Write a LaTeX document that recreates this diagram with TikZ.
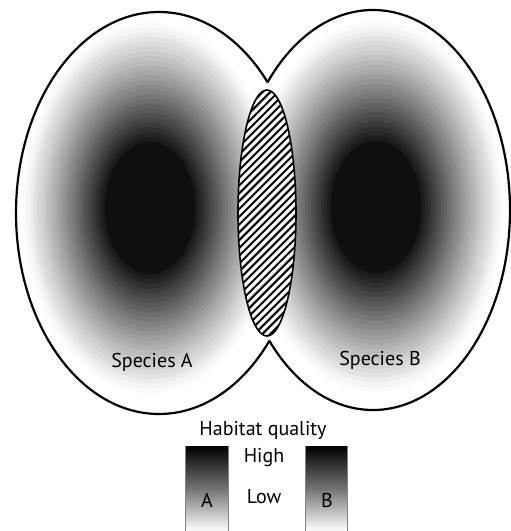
\documentclass[tikz,border=0pt]{standalone}
\usepackage{fontspec}
\setmainfont{PT Sans}
\usepackage{tikz}

\begin{document}
\begin{tikzpicture}[
  x=1pt, y=-1pt,
  outline/.style={draw, line width=2.2pt},
  lens/.style={draw, line width=1.6pt, fill=white},
  hatchline/.style={line width=2pt},
  label/.style={font=\fontsize{20}{24}\selectfont, inner sep=0pt},
  bar/.style={top color=black, bottom color=white, middle color=black!55}
]
\useasboundingbox (0,0) rectangle (511,531);

% Habitat quality gradients
\foreach \cx/\cy in {150/208, 376/207}{
  \foreach \k in {1,...,39}{
    \pgfmathsetmacro{\r}{1-\k/40}
    \pgfmathtruncatemacro{\d}{94*(min(1,(1-\r)/0.65))^1.15}
    \fill[black!\d] (\cx,\cy) ellipse ({130*\r} and {190*\r});
  }
}

% Ranges (outer outline only)
\begin{scope}[even odd rule]
  \clip (-5,-5) rectangle (516,536) (373,210) ellipse (137 and 200);
  \draw[outline] (159,213) ellipse (143 and 201);
\end{scope}
\begin{scope}[even odd rule]
  \clip (-5,-5) rectangle (516,536) (159,213) ellipse (143 and 201);
  \draw[outline] (373,210) ellipse (137 and 200);
\end{scope}

% Overlap
\fill[white] (267,213) ellipse (29 and 123);
\begin{scope}
  \clip (267,213) ellipse (29 and 123);
  \foreach \i in {0,...,45}
    \draw[hatchline] ({-40+\i*7.8},340) -- ++(260,-260);
\end{scope}
\draw[lens, fill=none] (267,213) ellipse (29 and 123);

% Labels
\node[label] (spA) at (152,362) {Species A};
\node[label] (spB) at (380,360) {Species B};

% Legend
\shade[bar] (185,446) rectangle (228,531);
\shade[bar] (305,446) rectangle (347,531);
\draw[gray, line width=0.4pt] (185,446) -- (185,531) (228,446) -- (228,531);
\draw[gray, line width=0.4pt] (305,446) -- (305,531) (347,446) -- (347,531);
\node[label] (hq) at (263,430) {Habitat quality};
\node[label] (high) at (264,458) {High};
\node[label] (low) at (264,497) {Low};
\node[label] (keyA) at (207,500) {A};
\node[label] (keyB) at (327,500) {B};
\end{tikzpicture}
\end{document}
